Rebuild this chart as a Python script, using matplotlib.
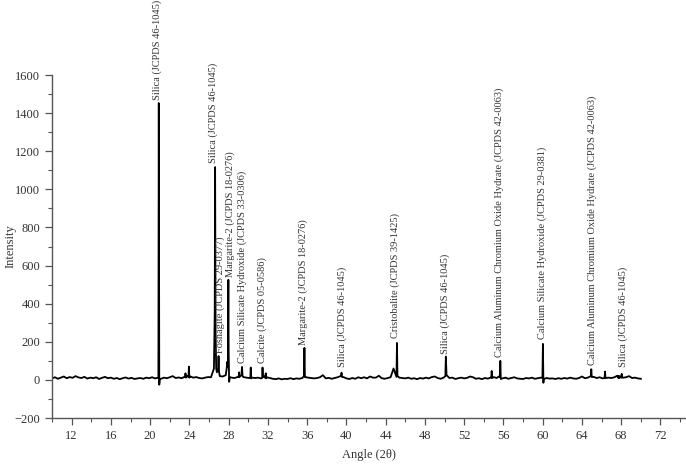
import numpy as np
import matplotlib
matplotlib.use("Agg")
import matplotlib.pyplot as plt
from matplotlib.ticker import MultipleLocator

# ---- data: baseline sampled every 0.3 deg from 10 to 70 ----
base_angle = np.linspace(10.0, 70.0, 201)
base_int = [
    8, 14, 6, 12, 18, 9, 15, 11, 20, 13,
    10, 16, 7, 12, 9, 14, 5, 11, 16, 9,
    12, 6, 10, 4, 9, 13, 7, 11, 5, 8,
    10, 6, 12, 9, 14, 8, 11, 6, 12, 9,
    14, 20, 10, 13, 9, 16, 22, 18, 12, 15,
    10, 8, 12, 15, 14, 60, 40, 20, 18, 25,
    150, 12, 10, 15, 20, 15, 12, 10, 12, 10,
    12, 8, 20, 14, 10, 6, 4, 8, 3, 6,
    5, 9, 4, 8, 6, 10, 15, 12, 10, 8,
    10, 14, 25, 8, 11, 6, 10, 14, 20, 15,
    8, 5, 10, 6, 14, 9, 14, 8, 18, 12,
    12, 22, 9, 6, 10, 14, 60, 16, 12, 10,
    8, 12, 6, 9, 4, 10, 7, 12, 8, 15,
    18, 10, 6, 12, 25, 10, 12, 5, 9, 12,
    8, 11, 18, 14, 6, 9, 4, 10, 7, 12,
    15, 10, 20, 8, 12, 6, 10, 14, 8, 6,
    5, 10, 8, 12, 6, 9, 12, 5, 10, 7,
    8, 5, 9, 6, 10, 7, 12, 8, 6, 10,
    18, 9, 12, 20, 16, 10, 14, 8, 10, 12,
    10, 14, 22, 18, 12, 14, 20, 10, 12, 8,
    6,
]

# ---- data: peak points (with their flank points) ----
peak_angle = [
    20.84, 20.88, 20.93, 20.98,
    23.56, 23.60, 23.65, 23.91, 23.95, 24.00,
    26.58, 26.62, 26.67, 26.73, 26.93, 26.97, 27.02,
    27.80, 27.86, 27.92, 27.97, 28.05, 28.12,
    29.02, 29.06, 29.10, 29.30, 29.36, 29.42,
    30.21, 30.25, 30.30,
    31.41, 31.45, 31.50, 31.74, 31.78, 31.83,
    35.67, 35.72, 35.77,
    39.45, 39.50, 39.56,
    45.15, 45.20,
    50.08, 50.13,
    54.76, 54.80, 54.85,
    55.64, 55.68, 55.73,
    59.97, 60.02, 60.07,
    64.95, 65.00,
    66.30, 66.35,
    67.72, 67.76, 67.80, 68.00, 68.05, 68.10,
]
peak_int = [
    15, 1453, -25, 5,
    15, 35, 12, 15, 70, 12,
    350, 1117, 250, 60, 60, 125, 40,
    60, 95, 70, 525, -10, 15,
    15, 40, 15, 25, 68, 20,
    10, 65, 8,
    10, 65, 15, 10, 35, 8,
    20, 168, 15,
    20, 38, 15,
    194, 20,
    20, 122,
    12, 47, 10,
    15, 100, 5,
    10, 189, -15,
    56, 15,
    10, 44,
    10, 22, 10, 12, 32, 12,
]

# ---- data: phase labels ----
label_text = [
    "Silica (JCPDS 46-1045)",
    "Silica (JCPDS 46-1045)",
    "Foshagite (JCPDS 29-0377)",
    "Margarite-2 (JCPDS 18-0276)",
    "Calcium Silicate Hydroxide (JCPDS 33-0306)",
    "Calcite (JCPDS 05-0586)",
    "Margarite-2 (JCPDS 18-0276)",
    "Silica (JCPDS 46-1045)",
    "Cristobalite (JCPDS 39-1425)",
    "Silica (JCPDS 46-1045)",
    "Calcium Aluminum Chromium Oxide Hydrate (JCPDS 42-0063)",
    "Calcium Silicate Hydroxide (JCPDS 29-0381)",
    "Calcium Aluminum Chromium Oxide Hydrate (JCPDS 42-0063)",
    "Silica (JCPDS 46-1045)",
]
label_angle = [20.72, 26.45, 27.17, 28.12, 29.38, 31.40, 35.62, 39.55,
               45.02, 50.10, 55.55, 59.95, 65.05, 68.20]
label_int = [1470, 1140, 140, 540, 90, 90, 185, 70,
             220, 137, 120, 215, 78, 70]

x_ticks = [12, 16, 20, 24, 28, 32, 36, 40, 44, 48, 52, 56, 60, 64, 68, 72]
y_ticks = [-200, 0, 200, 400, 600, 800, 1000, 1200, 1400, 1600]

# ---- combine and sort trace ----
angle = np.concatenate([base_angle, np.array(peak_angle)])
inten = np.concatenate([np.array(base_int, float), np.array(peak_int, float)])
order = np.argsort(angle, kind="stable")
angle = angle[order]
inten = inten[order]

plt.rcParams["font.family"] = ["Liberation Serif", "DejaVu Serif"]

fig = plt.figure(figsize=(6.86, 4.65), dpi=100)
ax = fig.add_axes([0.0758, 0.101, 0.9242, 0.7376])

ax.plot(angle, inten, color="black", lw=1.3)

ax.set_xlim(10, 74.6)
ax.set_ylim(-200, 1600)
ax.set_xticks(x_ticks)
ax.set_yticks(y_ticks)
ax.xaxis.set_minor_locator(MultipleLocator(2))
ax.yaxis.set_minor_locator(MultipleLocator(100))

for s in ["top", "right"]:
    ax.spines[s].set_visible(False)
for s in ["left", "bottom"]:
    ax.spines[s].set_color("#555555")
    ax.spines[s].set_linewidth(1.0)

ax.tick_params(which="major", direction="out", length=5, width=0.9,
               color="#555555", labelsize=9, labelcolor="#333333")
ax.tick_params(which="minor", direction="out", length=3, width=0.8,
               color="#555555")

ax.set_xlabel("Angle (2θ)", fontsize=9, color="#333333", labelpad=5)
ax.set_ylabel("Intensity", fontsize=9, color="#333333")
ax.yaxis.set_label_coords(-0.056, 0.5)

for t, xa, ya in zip(label_text, label_angle, label_int):
    ax.text(xa, ya, t, rotation=90, ha="center", va="bottom",
            fontsize=7.5, color="#333333", clip_on=False)

fig.savefig("out.png", dpi=100)
